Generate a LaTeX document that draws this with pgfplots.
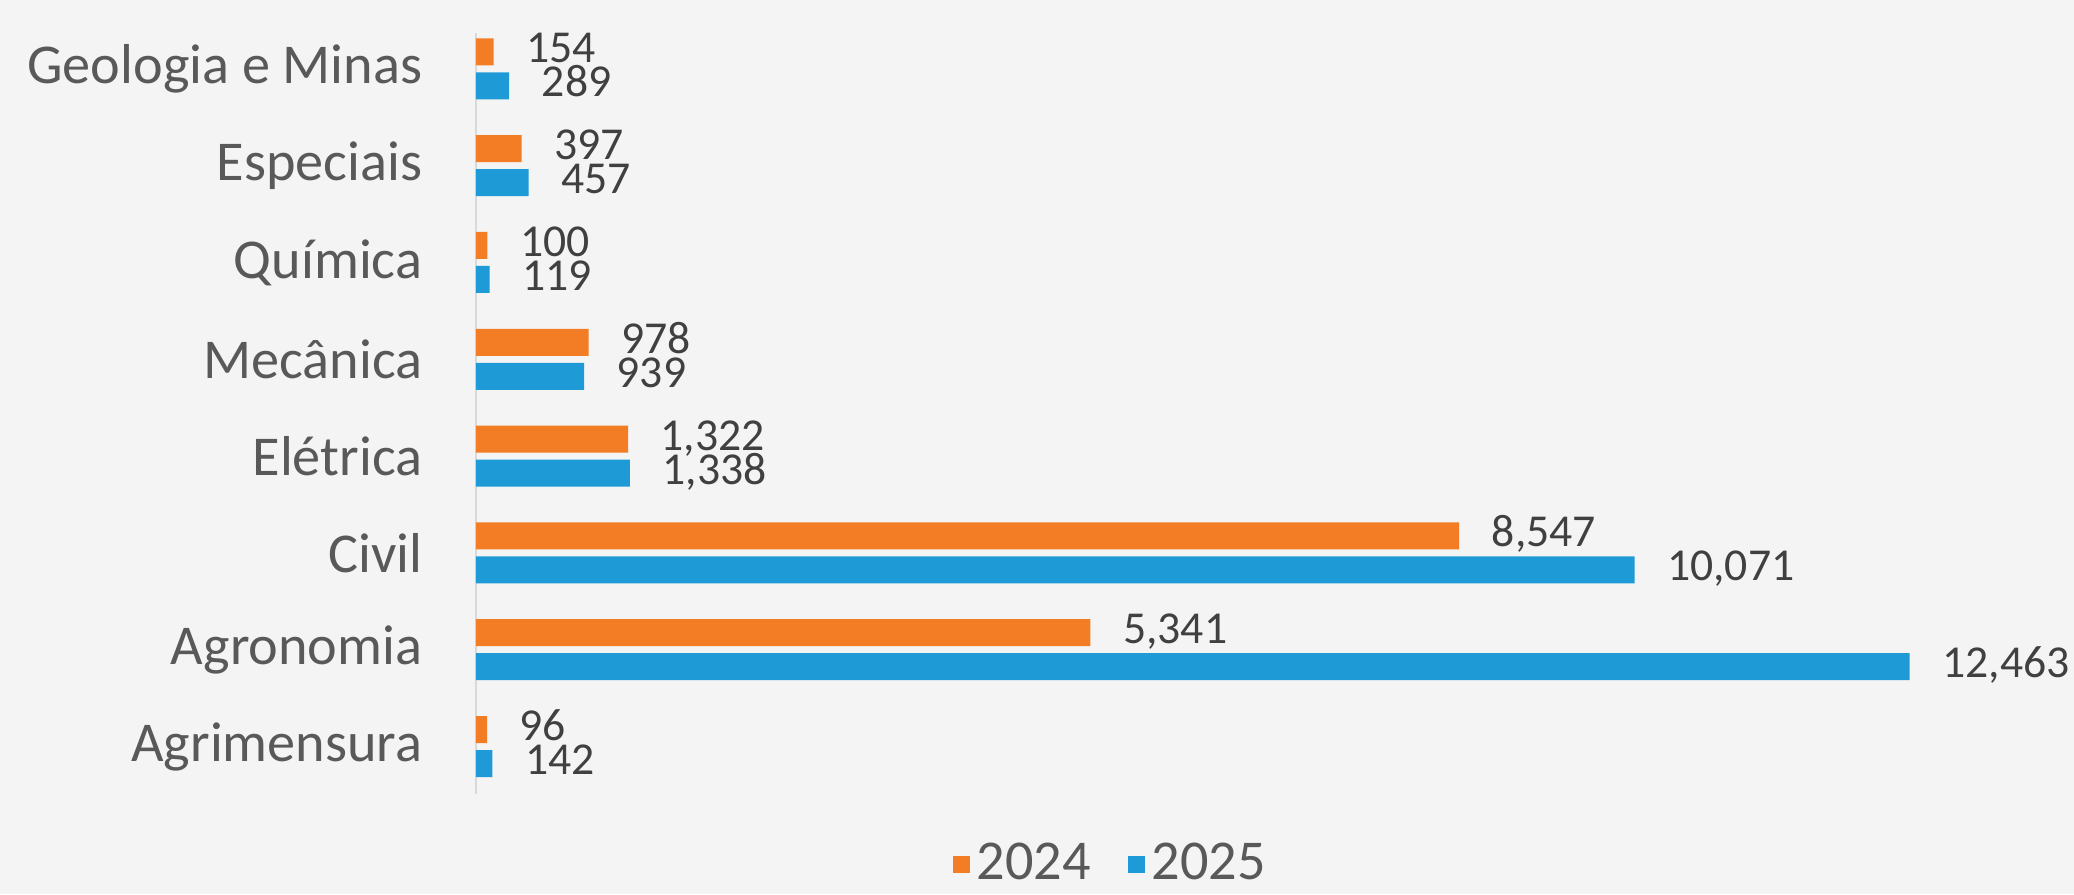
\documentclass[border=0pt]{standalone}
\usepackage{fontspec}
\setmainfont{Carlito}
\usepackage{pgfplots}
\usepackage{pgfplotstable}
\pgfplotsset{compat=1.18}
\definecolor{cOrange}{RGB}{243,125,36}
\definecolor{cBlue}{RGB}{30,155,215}
\definecolor{cBg}{RGB}{244,244,244}
\definecolor{cText}{RGB}{89,89,89}
\definecolor{cVal}{RGB}{64,64,64}
\pgfplotstableread{
y a b
0 96 142
1 5341 12463
2 8547 10071
3 1322 1338
4 978 939
5 100 119
6 397 457
7 154 289
}\datatable
\begin{document}
\begin{tikzpicture}
\fill[cBg] (0,0) rectangle (207.4mm,89.4mm);
\useasboundingbox (0,0) rectangle (207.4mm,89.4mm);
\begin{axis}[
  at={(47.6mm,10mm)}, anchor=south west,
  scale only axis, width=155.3mm, height=76.1mm,
  xmin=0, xmax=13500, ymin=-0.49, ymax=7.37,
  enlargelimits=false, clip=false,
  axis x line=none,
  axis y line*=left,
  y axis line style={-, draw=gray!30, line width=0.8pt},
  xtick=\empty,
  ytick={0,...,7},
  yticklabels={Agrimensura, Agronomia, Civil, Elétrica, Mecânica, Química, Especiais, Geologia e Minas},
  major tick length=0pt,
  yticklabel style={font=\fontsize{16}{18}\selectfont, color=cText, inner sep=0pt, xshift=-5.3mm, anchor=east},
  xbar, bar width=2.7mm,
  /pgf/number format/assume math mode=true,
  /pgf/number format/fixed,
  /pgf/number format/precision=0,
  /pgf/number format/1000 sep={,},
  nodes near coords,
  every node near coord/.append style={font=\fontsize{13}{15}\selectfont, color=cVal, anchor=west, inner sep=0pt, text height=0.63em, text depth=0pt, xshift=3.2mm},
  legend style={at={(0.41,-0.092)}, anchor=center, draw=none, fill=none, legend columns=2,
    font=\fontsize{16}{18}\selectfont, text=cText,
    /tikz/every even column/.append style={column sep=3mm}},
  legend image code/.code={\fill (0mm,-0.85mm) rectangle (1.7mm,0.85mm);},
]
\addplot[fill=cOrange, draw=none, bar shift=1.7mm] table[x=a, y=y] {\datatable};
\addplot[fill=cBlue, draw=none, bar shift=-1.7mm] table[x=b, y=y] {\datatable};
\legend{2024, 2025}
\end{axis}
\end{tikzpicture}
\end{document}
